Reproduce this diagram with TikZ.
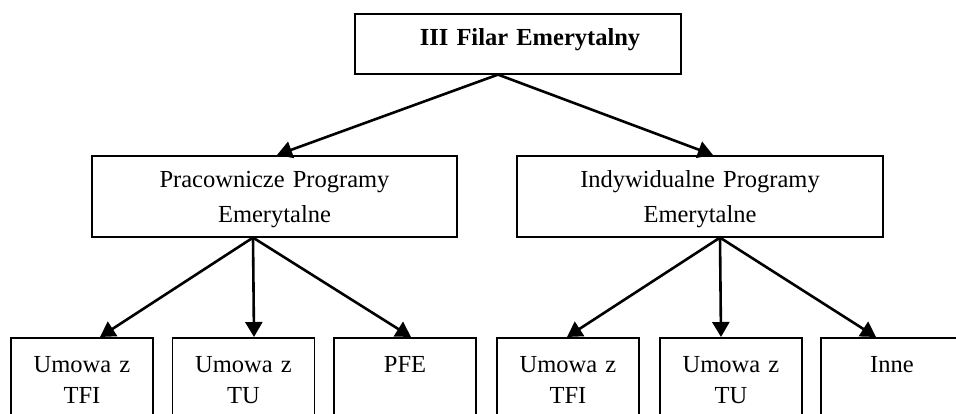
\documentclass[tikz,border=0pt]{standalone}
\usepackage{fontspec}
\setmainfont{Liberation Serif}
\usetikzlibrary{arrows.meta}

\begin{document}
\begin{tikzpicture}[x=1pt, y=-1pt, font=\fontsize{24.5}{35}\selectfont,
    box/.style={draw, line width=1.6pt, anchor=north, inner xsep=0pt, align=center},
    leaf/.style={box, text width=142pt, text height=17pt, text depth=70pt,
                 inner ysep=18pt, font=\fontsize{24.5}{31}\selectfont},
    conn/.style={line width=2.6pt, -{Triangle[length=15pt, width=17pt]}}]
  \useasboundingbox (0,0) rectangle (956,414);
  \clip (0,0) rectangle (956,414);

  % pillar and the two programme groups
  \node[box, text width=326pt, text height=24pt, text depth=20pt, inner ysep=8pt]
    (pillar) at (518,13) {\hspace*{24pt}\textbf{III Filar Emerytalny}};
  \node[box, text width=365pt, text height=22pt, text depth=39pt, inner ysep=10pt]
    (ppe) at (274.5,155) {Pracownicze Programy\\Emerytalne};
  \node[box, text width=366pt, text height=22pt, text depth=39pt, inner ysep=10pt]
    (ipe) at (700,155) {Indywidualne Programy\\Emerytalne};

  % forms of each group
  \foreach \n/\x/\lab in {p1/82/{Umowa z\\TFI}, p2/243.5/{Umowa z\\TU}, p3/405/{PFE},
                          i1/568/{Umowa z\\TFI}, i2/731/{Umowa z\\TU}, i3/892/{Inne}}{%
    \node[leaf] (\n) at (\x,337) {\lab};}

  \draw[conn] ([xshift=-20pt]pillar.south) -- ([xshift=2.5pt]ppe.north);
  \draw[conn] ([xshift=-20pt]pillar.south) -- ([xshift=13pt]ipe.north);
  \foreach \n/\dx in {p1/18, p2/10.5, p3/6}{%
    \draw[conn] ([xshift=-21.5pt]ppe.south) -- ([xshift=\dx pt]\n.north);}
  \foreach \n/\dx in {i1/-1, i2/-10, i3/-16}{%
    \draw[conn] ([xshift=20pt]ipe.south) -- ([xshift=\dx pt]\n.north);}
\end{tikzpicture}
\end{document}
